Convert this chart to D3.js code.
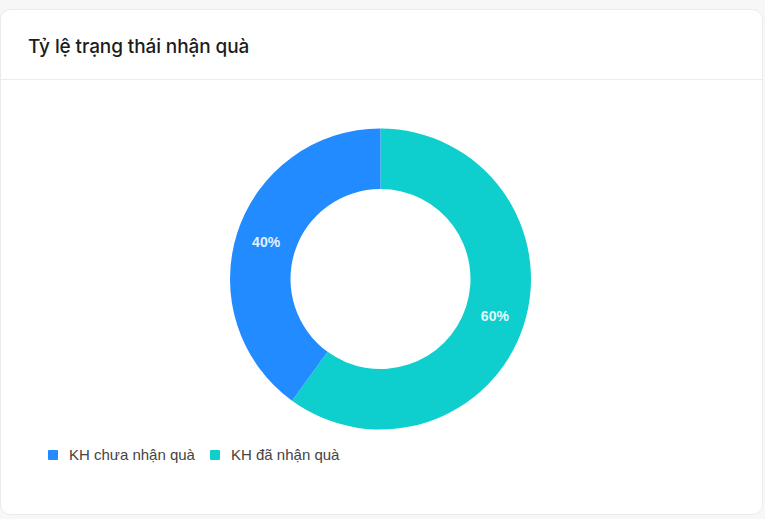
<!DOCTYPE html>
<html>
<head>
<meta charset="utf-8">
<script src="https://cdn.jsdelivr.net/npm/d3@7"></script>
<style>
  body { margin: 0; background: #f7f7f8; }
  svg { display: block; }
</style>
</head>
<body>
<script>
// data
var labels = ["KH chưa nhận quà", "KH đã nhận quà"];
var values = [40, 60];
var colors = ["#228bff", "#0ecfce"];
var title = "Tỷ lệ trạng thái nhận quà";

var width = 765, height = 519;

var svg = d3.select("body").append("svg")
    .attr("width", width)
    .attr("height", height);

// card
svg.append("rect")
    .attr("x", 0.5).attr("y", 9.5)
    .attr("width", 762).attr("height", 505)
    .attr("rx", 10)
    .style("fill", "#fff")
    .style("stroke", "#ebebeb");

svg.append("line")
    .attr("x1", 1).attr("x2", 762)
    .attr("y1", 79.5).attr("y2", 79.5)
    .style("stroke", "#ececec");

svg.append("text")
    .attr("x", 28).attr("y", 53)
    .style("font-family", "Inter, 'Noto Sans', sans-serif")
    .style("font-size", "19px")
    .style("font-weight", 500)
    .style("letter-spacing", "-0.1px")
    .style("fill", "#1c1c1c")
    .text(title);

// donut: teal first, clockwise from 12 o'clock
var order = [1, 0];
var pie = d3.pie().sort(null).value(function(i) { return values[i]; });
var arcs = pie(order);

var outerR = 150.5, innerR = 90;
var arc = d3.arc().innerRadius(innerR).outerRadius(outerR);
var labelArc = d3.arc().innerRadius((innerR + outerR) / 2).outerRadius((innerR + outerR) / 2);

var total = d3.sum(values);

var g = svg.append("g").attr("transform", "translate(380.5,279)");

g.selectAll("path")
    .data(arcs)
    .enter().append("path")
    .attr("d", arc)
    .style("fill", function(d) { return colors[d.data]; });

g.selectAll("text")
    .data(arcs)
    .enter().append("text")
    .attr("transform", function(d) { return "translate(" + labelArc.centroid(d) + ")"; })
    .attr("dy", "0.35em")
    .attr("text-anchor", "middle")
    .style("font-family", "'Liberation Sans', Arial, sans-serif")
    .style("font-size", "14px")
    .style("font-weight", 700)
    .style("fill", "#fff")
    .style("fill-opacity", 0.9)
    .text(function(d) { return Math.round(values[d.data] / total * 100) + "%"; });

// legend
var legendX = [48, 210];
var legend = svg.selectAll("g.legend")
    .data(labels)
    .enter().append("g")
    .attr("class", "legend")
    .attr("transform", function(d, i) { return "translate(" + legendX[i] + ",450)"; });

legend.append("rect")
    .attr("width", 10).attr("height", 10)
    .attr("rx", 1)
    .style("fill", function(d, i) { return colors[i]; });

legend.append("text")
    .attr("x", 21).attr("y", 5)
    .attr("dy", "0.35em")
    .style("font-family", "'Liberation Sans', Arial, sans-serif")
    .style("font-size", "15px")
    .style("fill", "#444")
    .text(function(d) { return d; });
</script>
</body>
</html>
